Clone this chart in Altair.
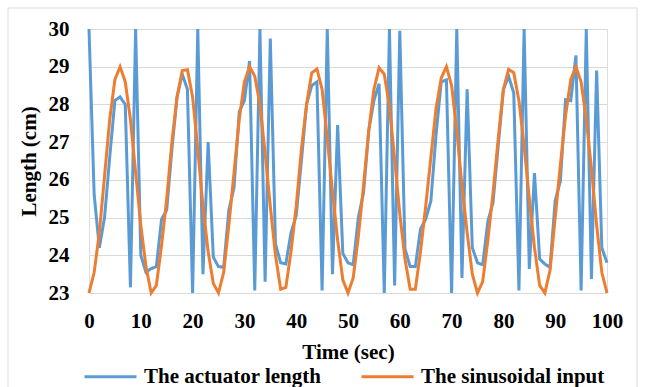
import altair as alt
import pandas as pd

time_sec = list(range(0, 101))

actuator_length = [
    30.0, 25.6, 24.2, 25.0, 26.6, 28.1, 28.2, 28.0, 23.15, 30.0,
    24.0, 23.55, 23.65, 23.7, 24.95, 25.2, 26.8, 28.2, 28.8, 28.4,
    23.0, 30.0, 23.5, 27.0, 23.95, 23.7, 23.68, 25.2, 25.8, 27.8,
    28.1, 29.15, 23.07, 30.0, 23.3, 29.75, 24.3, 23.8, 23.77, 24.6,
    25.05, 26.5, 28.0, 28.5, 28.6, 23.07, 30.0, 23.5, 27.45, 24.05,
    23.8, 23.75, 25.0, 25.66, 27.3, 28.1, 28.55, 23.0, 30.0, 23.2,
    29.95, 24.17, 23.7, 23.7, 24.7, 24.96, 25.44, 27.2, 28.6, 28.65,
    23.0, 30.0, 23.4, 28.4, 24.2, 23.8, 23.75, 24.9, 25.4, 26.9,
    28.4, 28.75, 28.3, 23.07, 30.0, 23.64, 26.18, 23.9, 23.77, 23.68,
    25.45, 25.97, 28.13, 28.1, 29.3, 23.07, 30.0, 23.37, 28.9, 24.2,
    23.8,
]

sinusoidal_input = [
    23.0, 23.55, 24.6, 26.1, 27.6, 28.66, 29.0, 28.6, 27.6, 26.2,
    24.8, 23.7, 23.0, 23.2, 24.25, 25.5, 27.0, 28.2, 28.9, 28.92,
    28.2, 26.8, 25.3, 24.1, 23.25, 23.0, 23.55, 24.8, 26.2, 27.6,
    28.6, 29.0, 28.75, 28.0, 26.7, 25.3, 24.0, 23.1, 23.15, 24.1,
    25.3, 26.8, 28.0, 28.84, 28.94, 28.4, 27.1, 25.7, 24.4, 23.35,
    23.0, 23.4, 24.5, 25.85, 27.3, 28.4, 28.97, 28.8, 27.95, 26.55,
    25.1, 23.9, 23.1, 23.1, 24.1, 25.3, 26.6, 27.9, 28.7, 29.0,
    28.5, 27.3, 25.85, 24.6, 23.5, 23.0, 23.3, 24.4, 25.66, 27.1,
    28.4, 28.93, 28.84, 28.1, 26.9, 25.5, 24.2, 23.2, 23.0, 23.6,
    25.0, 26.4, 27.7, 28.66, 29.0, 28.6, 27.6, 26.3, 24.8, 23.55,
    23.0,
]

series_names = ["The actuator length", "The sinusoidal input"]
series_colors = ["#5b9bd5", "#ed7d31"]
x_ticks = list(range(0, 101, 10))
y_ticks = list(range(23, 31))

rows = []
for t, v in zip(time_sec, actuator_length):
    rows.append({"t": t, "v": v, "series": series_names[0], "order": 0})
for t, v in zip(time_sec, sinusoidal_input):
    rows.append({"t": t, "v": v, "series": series_names[1], "order": 1})
df = pd.DataFrame(rows)

FONT = "Liberation Serif"
FS = 21
W, H = 518, 264

lines = alt.Chart(df).mark_line(strokeWidth=3).encode(
    x=alt.X("t:Q", scale=alt.Scale(domain=[0, 100], nice=False),
            axis=alt.Axis(values=x_ticks, title="Time (sec)", grid=False, domain=False,
                          ticks=False, labelPadding=17, labelFontSize=FS,
                          labelFontWeight="bold", labelFont=FONT, labelColor="#000",
                          titleFont=FONT, titleFontSize=FS, titleFontWeight="bold",
                          titleColor="#000", titleX=W / 2, titleY=59,
                          titleBaseline="middle", titleAlign="center",
                          labelFlush=False)),
    y=alt.Y("v:Q", scale=alt.Scale(domain=[23, 30], nice=False, zero=False),
            axis=alt.Axis(values=y_ticks, title="Length (cm)", grid=True,
                          gridColor="#d9d9d9", gridWidth=1.2, domain=False,
                          ticks=False, labelPadding=20, labelFontSize=FS,
                          labelFontWeight="bold", labelFont=FONT, labelColor="#000",
                          titleFont=FONT, titleFontSize=FS, titleFontWeight="bold",
                          titleColor="#000", titleX=-60, titleY=H / 2,
                          titleAngle=270, titleBaseline="middle", titleAlign="center")),
    color=alt.Color("series:N",
                    scale=alt.Scale(domain=series_names, range=series_colors),
                    legend=alt.Legend(title=None, orient="none", direction="horizontal",
                                      legendX=-6, legendY=320, symbolType="stroke",
                                      symbolSize=2704, symbolStrokeWidth=3,
                                      labelFont=FONT, labelFontSize=FS,
                                      labelFontWeight="bold", labelColor="#000",
                                      labelOffset=6, columnPadding=33, padding=0,
                                      labelLimit=400)),
    order=alt.Order("order:Q"),
    detail="series:N",
)

border = alt.Chart(pd.DataFrame({"a": [0]})).mark_rect(
    fill=None, stroke="#d9d9d9", strokeWidth=1
).encode(
    x=alt.value(-81), x2=alt.value(548), y=alt.value(-21), y2=alt.value(380)
)

chart = alt.layer(border, lines).properties(
    width=W, height=H,
    autosize=alt.AutoSizeParams(type="none"),
    padding={"left": 89, "top": 29, "right": 39, "bottom": 94},
).configure_view(stroke=None).configure(background="white")

chart.save("out.html", embed_options={"renderer": "svg", "actions": False})
